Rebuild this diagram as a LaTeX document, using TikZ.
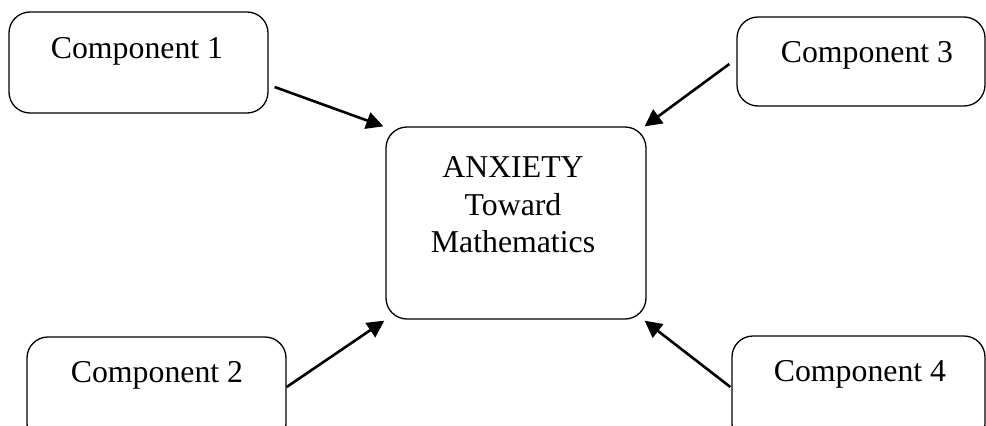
\documentclass[tikz,border=0pt]{standalone}
\usepackage{fontspec}
\setmainfont{Liberation Serif}
\usetikzlibrary{arrows.meta,calc}
\begin{document}
\begin{tikzpicture}[x=1pt,y=1pt,
  box/.style={draw,line width=1.3pt,rounded corners=21pt,inner sep=0pt},
  lbl/.style={inner sep=0pt,font=\fontsize{31.8}{37.5}\selectfont,align=center},
  arr/.style={line width=2.6pt,-{Triangle[length=17pt,width=17pt]}}]
\clip (0,0) rectangle (986,-426);
\fill[white] (0,0) rectangle (986,-426);
\node[box,minimum width=259pt,minimum height=101pt] (b1) at (138.5,-62.5) {};
\node[box,minimum width=248pt,minimum height=89pt] (b3) at (861,-61.5) {};
\node[box,minimum width=259pt,minimum height=108pt] (b2) at (156.5,-391) {};
\node[box,minimum width=253pt,minimum height=109pt] (b4) at (858.5,-390.5) {};
\node[box,minimum width=260pt,minimum height=192pt] (c) at (516,-223) {};
\node[lbl] (t1) at (137,-51) {Component 1};
\node[lbl] (t3) at (867,-55) {Component 3};
\node[lbl] (t2) at (157,-375) {Component 2};
\node[lbl] (t4) at (860,-374) {Component 4};
\node[lbl] (tc) at (513,-205) {ANXIETY\\Toward\\Mathematics};
\draw[arr] ($(b1.east)+(6,-24.5)$) -- ($(c.north west)+(-2,0)$);
\draw[arr] ($(b3.west)+(-7,-2.5)$) -- ($(c.north east)+(-2,0)$);
\draw[arr] ($(b2.east)+(0,4)$) -- ($(c.south west)+(-1,-1)$);
\draw[arr] ($(b4.west)+(-1,3.5)$) -- ($(c.south east)+(-2,-1)$);
\end{tikzpicture}
\end{document}
